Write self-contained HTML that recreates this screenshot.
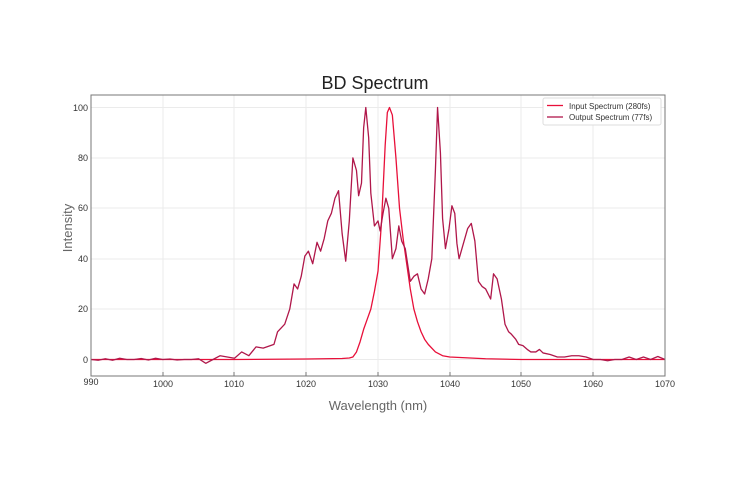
<!DOCTYPE html>
<html><head><meta charset="utf-8"><style>
body{margin:0;background:#fff;}
svg{display:block;font-family:"Liberation Sans",sans-serif;}
</style></head><body>
<svg width="750" height="500" viewBox="0 0 750 500">
<rect width="750" height="500" fill="#fff"/>
<text x="375" y="89" text-anchor="middle" font-size="18" fill="#222">BD Spectrum</text>
<g stroke="#ebebeb" stroke-width="1">
<line x1="163" y1="95" x2="163" y2="376"/><line x1="234" y1="95" x2="234" y2="376"/><line x1="306" y1="95" x2="306" y2="376"/><line x1="378" y1="95" x2="378" y2="376"/><line x1="450" y1="95" x2="450" y2="376"/><line x1="521" y1="95" x2="521" y2="376"/><line x1="593" y1="95" x2="593" y2="376"/>
<line x1="91" y1="107.5" x2="665" y2="107.5"/><line x1="91" y1="158" x2="665" y2="158"/><line x1="91" y1="208" x2="665" y2="208"/><line x1="91" y1="259" x2="665" y2="259"/><line x1="91" y1="309" x2="665" y2="309"/><line x1="91" y1="359.5" x2="665" y2="359.5"/>
</g>
<g transform="translate(91,359.5) scale(7.175,-2.52) translate(-990,0)" fill="none" stroke-linejoin="round">
<polyline vector-effect="non-scaling-stroke" stroke="#e8103a" stroke-width="1.3" points="990,0 1000,0 1010,0 1020,0.2 1025,0.4 1026,0.6 1026.5,1 1027,3 1027.5,7 1028,12 1028.5,16 1029,20 1029.5,27 1030,35 1030.5,55 1031,85 1031.3,98 1031.6,100 1032,97 1032.5,80 1033,60 1033.5,48 1034,38 1034.5,28 1035,20 1035.5,15 1036,11 1036.5,8 1037,6 1038,3 1039,1.5 1040,1 1045,0.3 1050,0 1070,0"/>
<polyline vector-effect="non-scaling-stroke" stroke="#b0174a" stroke-width="1.3" points="990,0 991,-0.3 992,0.3 993,-0.3 994,0.5 995,0 996,0 997,0.4 998,-0.2 999,0.5 1000,0 1001,0.2 1002,-0.2 1003,0 1004,0 1005,0.3 1006,-1.5 1007,0 1008,1.5 1009,1 1010,0.5 1011,3 1012,1.5 1013,5 1014,4.5 1015,5.5 1015.5,6 1016,11 1017,14 1017.7,20 1018.3,30 1018.8,28 1019.3,33 1019.8,41 1020.3,43 1020.9,38 1021.5,46.5 1022,43 1022.5,48 1023,55 1023.5,58 1024,64 1024.5,67 1025,50 1025.5,39 1026,55 1026.5,80 1027,75 1027.3,65 1027.7,70 1028,92 1028.3,100 1028.7,88 1029,66 1029.5,53 1030,55 1030.3,51 1030.7,58 1031.1,64 1031.5,60 1032,40 1032.5,44 1032.9,53 1033.3,47 1033.8,44 1034.5,31 1035,33 1035.5,34 1036,28 1036.5,26 1037,32 1037.5,40 1038,75 1038.3,100 1038.7,82 1039,56 1039.4,44 1039.9,52 1040.3,61 1040.7,58 1041,46 1041.3,40 1041.8,45 1042.5,52 1043,54 1043.5,47 1044,31 1044.5,29 1045,28 1045.7,24 1046.1,34 1046.6,32 1047.2,24 1047.7,14 1048.2,11 1048.6,10 1049.2,8 1049.6,6 1050.2,5.5 1050.8,4 1051.3,3 1052,3 1052.5,4 1053,2.6 1054,2 1055,1 1056,1 1057,1.5 1058,1.5 1059,1 1060,0 1061,0 1062,-0.5 1063,0 1064,0 1065,1 1066,0 1067,1 1068,0 1069,1.2 1070,0"/>
</g>
<rect x="91" y="95" width="574" height="281" fill="none" stroke="#777" stroke-width="1"/>
<g stroke="#777"><line x1="163" y1="376" x2="163" y2="372"/><line x1="234" y1="376" x2="234" y2="372"/><line x1="306" y1="376" x2="306" y2="372"/><line x1="378" y1="376" x2="378" y2="372"/><line x1="450" y1="376" x2="450" y2="372"/><line x1="521" y1="376" x2="521" y2="372"/><line x1="593" y1="376" x2="593" y2="372"/></g>
<g font-size="9" fill="#333" text-anchor="middle">
<text x="91" y="385">990</text><text x="163" y="387">1000</text><text x="234" y="387">1010</text><text x="306" y="387">1020</text><text x="378" y="387">1030</text><text x="450" y="387">1040</text><text x="521" y="387">1050</text><text x="593" y="387">1060</text><text x="665" y="387">1070</text>
</g>
<g font-size="9" fill="#333" text-anchor="end">
<text x="88" y="111">100</text><text x="88" y="161">80</text><text x="88" y="211">60</text><text x="88" y="262">40</text><text x="88" y="312">20</text><text x="88" y="363">0</text>
</g>
<text x="378" y="410" text-anchor="middle" font-size="13" fill="#666">Wavelength (nm)</text>
<text transform="translate(72,228) rotate(-90)" text-anchor="middle" font-size="13" fill="#666">Intensity</text>
<rect x="543" y="98" width="118" height="27" fill="#fff" stroke="#ddd" rx="2"/>
<line x1="547" y1="105.5" x2="563" y2="105.5" stroke="#e8103a" stroke-width="1.3"/>
<line x1="547" y1="117" x2="563" y2="117" stroke="#b0174a" stroke-width="1.3"/>
<text x="569" y="109" font-size="8" fill="#333">Input Spectrum (280fs)</text>
<text x="569" y="120" font-size="8" fill="#333">Output Spectrum (77fs)</text>
</svg>
</body></html>
